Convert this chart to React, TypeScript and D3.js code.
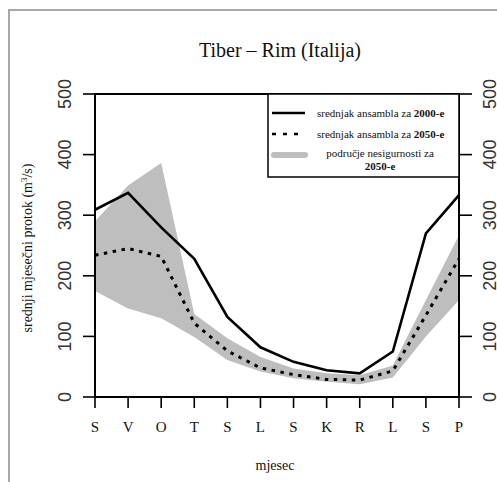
import React from "react";
import * as d3 from "d3";

const months = ["S", "V", "O", "T", "S", "L", "S", "K", "R", "L", "S", "P"];
const flow2000 = [309, 337, 280, 228, 132, 82, 58, 44, 39, 75, 270, 333];
const flow2050 = [234, 245, 232, 122, 76, 48, 37, 29, 28, 43, 135, 228];
const bandUpper = [290, 349, 386, 137, 97, 66, 47, 39, 36, 52, 160, 267];
const bandLower = [175, 146, 130, 99, 61, 42, 31, 25, 21, 32, 100, 160];
const yTicks = [0, 100, 200, 300, 400, 500];

const W = 497;
const H = 482;
const left = 95;
const right = 459;
const top = 94;
const bottom = 397;

export default function App() {
  const idx = months.map((_, i) => i);
  const x = d3.scaleLinear().domain([0, 11]).range([left, right]);
  const y = d3.scaleLinear().domain([0, 500]).range([bottom, top]);

  const area = d3
    .area<number>()
    .x((i) => x(i))
    .y0((i) => y(bandLower[i]))
    .y1((i) => y(bandUpper[i]));
  const line2000 = d3
    .line<number>()
    .x((i) => x(i))
    .y((i) => y(flow2000[i]));
  const line2050 = d3
    .line<number>()
    .x((i) => x(i))
    .y((i) => y(flow2050[i]));

  const serif = "'Liberation Serif', 'Times New Roman', serif";
  const sans = "'Liberation Sans', Arial, sans-serif";

  const lgL = 268;
  const lgT = top;
  const lgR = right;
  const lgB = 177;

  return (
    <svg
      width={W}
      height={H}
      style={{ position: "absolute", left: 0, top: 0, background: "#fff" }}
    >
      <rect x={0} y={0} width={W} height={H} fill="#fff" />
      {/* outer border */}
      <path d={`M9,${H + 5} L9,10 L${W + 5},10`} fill="none" stroke="#a8a8a8" strokeWidth={2} />

      {/* title */}
      <text x={280} y={57} textAnchor="middle" fontFamily={serif} fontSize={20} fill="#111">
        Tiber – Rim (Italija)
      </text>

      {/* band */}
      <path d={area(idx) || ""} fill="#bebebe" stroke="none" />
      {/* lines */}
      <path d={line2000(idx) || ""} fill="none" stroke="#000" strokeWidth={2.6} strokeLinejoin="miter" />
      <path
        d={line2050(idx) || ""}
        fill="none"
        stroke="#000"
        strokeWidth={3}
        strokeDasharray="3.5 5.5"
      />

      {/* frame */}
      <rect x={left} y={top} width={right - left} height={bottom - top} fill="none" stroke="#000" strokeWidth={2} />

      {/* y ticks left and right */}
      {yTicks.map((t) => (
        <g key={"yt" + t}>
          <line x1={left - 12} x2={left} y1={y(t)} y2={y(t)} stroke="#000" strokeWidth={1.6} />
          <line x1={right} x2={right + 13} y1={y(t)} y2={y(t)} stroke="#000" strokeWidth={1.6} />
          <text
            transform={`translate(${left - 24},${y(t)}) rotate(-90)`}
            textAnchor="middle"
            fontFamily={sans}
            fontSize={18}
            fill="#333"
          >
            {t}
          </text>
          <text
            transform={`translate(${right + 37},${y(t)}) rotate(-90)`}
            textAnchor="middle"
            fontFamily={sans}
            fontSize={18}
            fill="#333"
          >
            {t}
          </text>
        </g>
      ))}

      {/* x ticks */}
      {months.map((m, i) => (
        <g key={"xt" + i}>
          <line x1={x(i)} x2={x(i)} y1={bottom} y2={bottom + 11} stroke="#000" strokeWidth={1.6} />
          <text x={x(i)} y={432} textAnchor="middle" fontFamily={serif} fontSize={15} fill="#111">
            {m}
          </text>
        </g>
      ))}

      {/* axis titles */}
      <text x={275} y={470} textAnchor="middle" fontFamily={serif} fontSize={14} fill="#111">
        mjesec
      </text>
      <text
        transform={`translate(32,248) rotate(-90)`}
        textAnchor="middle"
        fontFamily={serif}
        fontSize={14}
        fill="#111"
      >
        srednji mjesečni protok (m<tspan dy={-5} fontSize={9}>3</tspan>
        <tspan dy={5}>/s)</tspan>
      </text>

      {/* legend */}
      <rect x={lgL} y={lgT} width={lgR - lgL} height={lgB - lgT} fill="#fff" stroke="#000" strokeWidth={1.5} />
      <line x1={272} x2={305} y1={113} y2={113} stroke="#000" strokeWidth={2.6} />
      <line x1={272} x2={305} y1={134} y2={134} stroke="#000" strokeWidth={2.6} strokeDasharray="4 7" />
      <line x1={274} x2={305} y1={155} y2={155} stroke="#bebebe" strokeWidth={6} strokeLinecap="round" />
      <text x={317} y={117} fontFamily={serif} fontSize={11} fill="#111">
        srednjak ansambla za <tspan fontWeight="bold">2000-e</tspan>
      </text>
      <text x={317} y={138} fontFamily={serif} fontSize={11} fill="#111">
        srednjak ansambla za <tspan fontWeight="bold">2050-e</tspan>
      </text>
      <text x={380} y={157} textAnchor="middle" fontFamily={serif} fontSize={11} fill="#111">
        područje nesigurnosti za
      </text>
      <text x={380} y={170} textAnchor="middle" fontFamily={serif} fontSize={11} fontWeight="bold" fill="#111">
        2050-e
      </text>
    </svg>
  );
}
